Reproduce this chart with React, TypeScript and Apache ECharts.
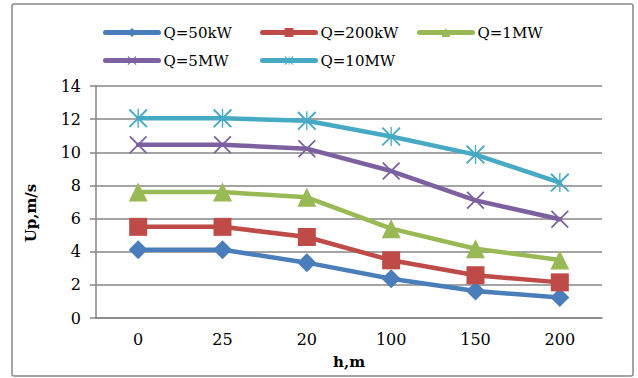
import React, { useEffect, useRef } from "react";
import * as echarts from "echarts";

const categories = ["0", "25", "20", "100", "150", "200"];
const q50kW = [4.12, 4.12, 3.34, 2.37, 1.63, 1.23];
const q200kW = [5.5, 5.5, 4.89, 3.48, 2.58, 2.15];
const q1MW = [7.6, 7.6, 7.28, 5.39, 4.18, 3.5];
const q5MW = [10.45, 10.45, 10.22, 8.87, 7.1, 5.96];
const q10MW = [12.05, 12.05, 11.9, 10.95, 9.86, 8.17];
const seriesNames = ["Q=50kW", "Q=200kW", "Q=1MW", "Q=5MW", "Q=10MW"];
const colors = ["#4A7EBB", "#BE4B48", "#98B954", "#7D60A0", "#46AAC5"];

const xPath =
  "path://M0,7 L7,0 L100,93 L93,100 Z M93,0 L100,7 L7,100 L0,93 Z";
const starPath =
  "path://M0,7 L7,0 L100,93 L93,100 Z M93,0 L100,7 L7,100 L0,93 Z M46.5,0 L53.5,0 L53.5,100 L46.5,100 Z";

const FONT = "'DejaVu Serif', serif";

// legend item anchor positions (left, top)
const legendPos = [
  [103, 25],
  [260, 25],
  [417, 25],
  [103, 53],
  [260, 53],
];

export default function App() {
  const ref = useRef<HTMLDivElement>(null);
  useEffect(() => {
    if (!ref.current) return;
    const chart = echarts.init(ref.current, undefined, { renderer: "svg" });
    const data = [q50kW, q200kW, q1MW, q5MW, q10MW];
    const symbols = ["diamond", "rect", "triangle", xPath, starPath];
    const sizes = [19, 18, 19, 18, 19];
    chart.setOption({
      animation: false,
      textStyle: { fontFamily: FONT },
      legend: seriesNames.map((n, i) => ({
        data: [n],
        left: legendPos[i][0],
        top: legendPos[i][1],
        padding: 0,
        itemWidth: 53,
        itemHeight: 11,
        itemGap: 5,
        lineStyle: { width: 5, cap: "round" },
        textStyle: { fontFamily: FONT, fontSize: 15, color: "#000" },
      })),
      grid: { left: 96, right: 36, top: 86, bottom: 60 },
      xAxis: {
        type: "category",
        data: categories,
        boundaryGap: true,
        name: "h,m",
        nameLocation: "middle",
        nameGap: 36,
        nameTextStyle: { fontFamily: FONT, fontSize: 15, fontWeight: "bold", color: "#000" },
        axisLine: { lineStyle: { color: "#868686", width: 1.5 } },
        axisTick: { show: false },
        axisLabel: { fontFamily: FONT, fontSize: 16, color: "#000", margin: 13 },
      },
      yAxis: {
        type: "value",
        min: 0,
        max: 14,
        interval: 2,
        axisLine: { show: true, lineStyle: { color: "#868686", width: 1.5 } },
        axisTick: { show: true, length: 6, lineStyle: { color: "#868686", width: 1.5 } },
        axisLabel: { fontFamily: FONT, fontSize: 16, color: "#000", margin: 15 },
        splitLine: { lineStyle: { color: "#868686", width: 1.5 } },
      },
      graphic: [
        {
          type: "rect",
          shape: { x: 12, y: 4, width: 621, height: 372, r: 2 },
          style: { fill: "none", stroke: "#888", lineWidth: 1.5 },
          silent: true,
        },
        {
          type: "text",
          x: 31,
          y: 213,
          rotation: Math.PI / 2,
          style: {
            text: "Up,m/s",
            fontFamily: FONT,
            fontSize: 15,
            fontWeight: "bold",
            fill: "#000",
            align: "center",
            verticalAlign: "middle",
          },
        },
      ],
      series: seriesNames.map((name, i) => ({
        name,
        type: "line",
        data: data[i],
        symbol: symbols[i],
        symbolSize: sizes[i],
        showAllSymbol: true,
        color: colors[i],
        lineStyle: { width: 4.5, color: colors[i], cap: "round", join: "round" },
        itemStyle: { color: colors[i] },
        z: 2 + i,
      })),
    });
    return () => chart.dispose();
  }, []);
  return <div ref={ref} style={{ width: 638, height: 378, position: "absolute", left: 0, top: 0 }} />;
}
